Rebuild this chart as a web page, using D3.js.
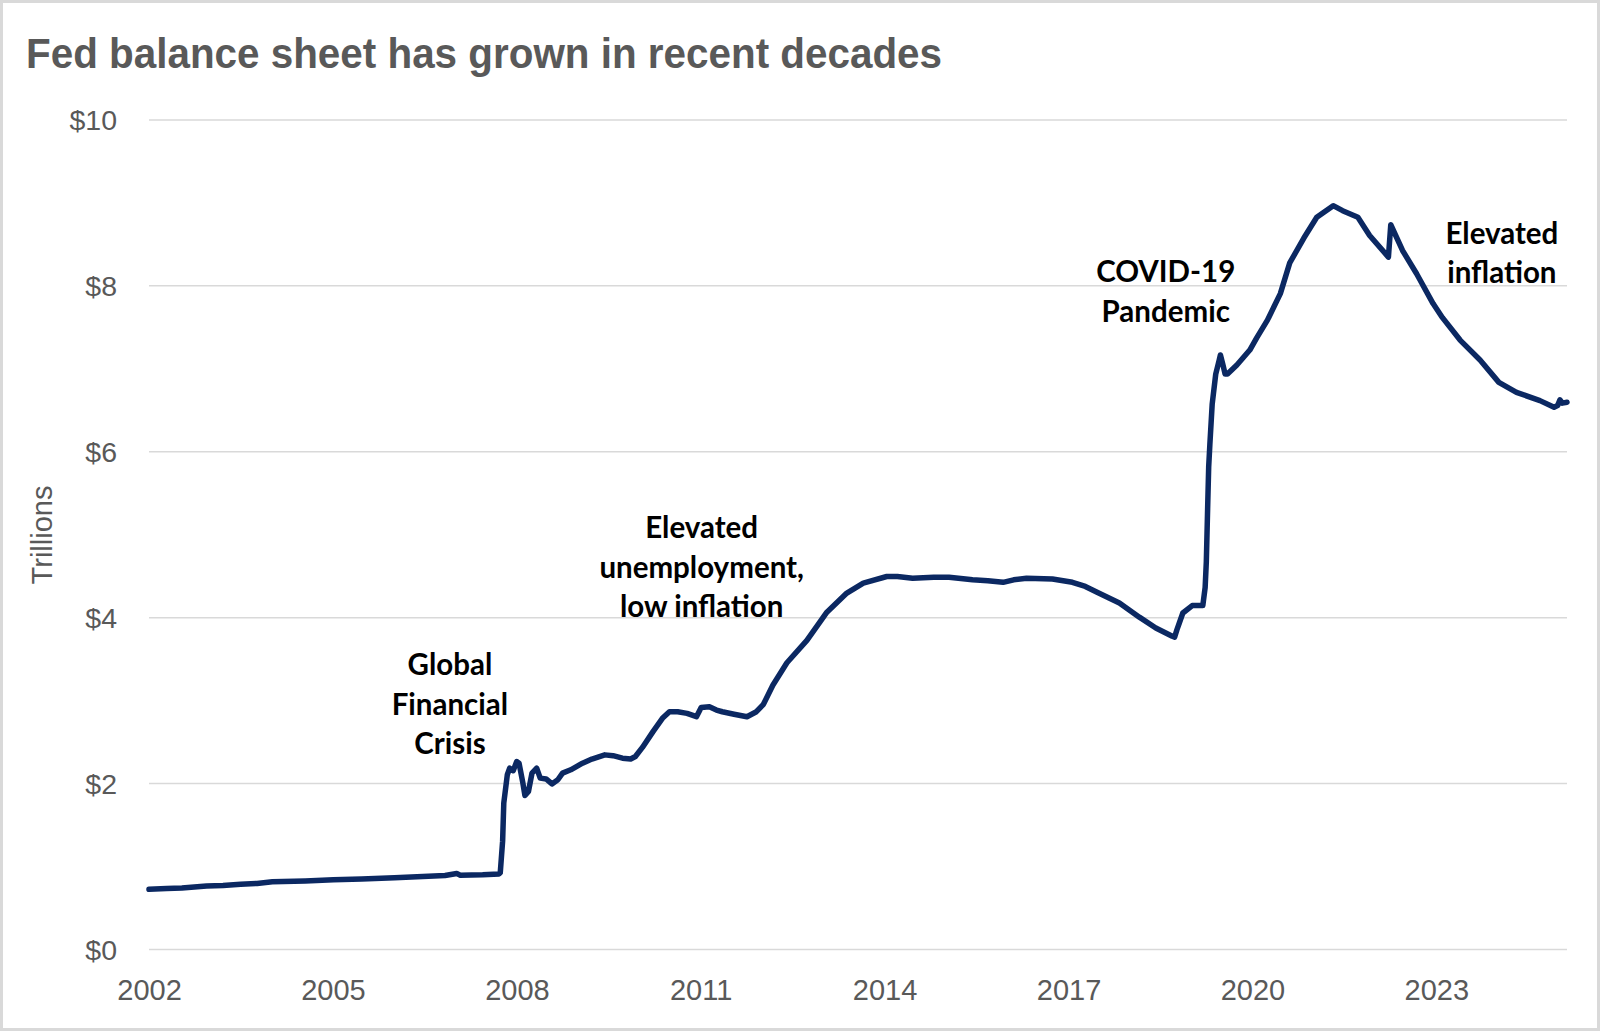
<!DOCTYPE html>
<html>
<head>
<meta charset="utf-8">
<script src="https://cdn.jsdelivr.net/npm/d3@7"></script>
<style>
  body { margin: 0; background: #fff; }
  svg { display: block; }
</style>
</head>
<body>
<svg id="chart" width="1600" height="1031"></svg>
<script>
// weekly Fed total assets (trillions of dollars)
const dates = [
  "2002-12-18", "2003-04-02", "2003-07-02", "2003-11-26", "2004-03-03", "2004-06-16", "2004-09-22", "2004-12-22",
  "2005-07-06", "2005-12-21", "2006-06-07", "2006-12-20", "2007-06-06", "2007-10-17", "2007-12-26", "2008-01-16",
  "2008-05-28", "2008-09-03", "2008-09-10", "2008-09-24", "2008-10-01", "2008-10-22", "2008-11-05", "2008-11-26",
  "2008-12-17", "2008-12-31", "2009-01-21", "2009-02-04", "2009-02-25", "2009-03-18", "2009-04-15", "2009-05-06",
  "2009-06-10", "2009-07-15", "2009-08-19", "2009-09-16", "2009-11-04", "2010-01-13", "2010-03-10", "2010-05-26",
  "2010-07-14", "2010-09-08", "2010-10-27", "2010-11-24", "2011-01-05", "2011-03-09", "2011-05-04", "2011-06-15",
  "2011-08-03", "2011-09-28", "2011-11-23", "2011-12-21", "2012-02-08", "2012-03-21", "2012-04-25", "2012-07-04",
  "2012-09-19", "2012-11-14", "2012-12-26", "2013-02-20", "2013-05-15", "2013-09-11", "2013-11-27", "2014-01-08",
  "2014-05-07", "2014-08-13", "2014-12-31", "2015-03-04", "2015-06-03", "2015-10-07", "2016-01-06", "2016-05-25",
  "2016-08-24", "2016-11-23", "2017-01-25", "2017-04-12", "2017-09-13", "2018-01-10", "2018-03-28", "2018-06-06",
  "2018-10-17", "2019-02-13", "2019-05-22", "2019-08-28", "2019-09-11", "2019-09-25", "2019-10-09", "2019-10-30",
  "2019-12-25", "2020-02-26", "2020-03-11", "2020-03-18", "2020-03-25", "2020-04-01", "2020-04-08", "2020-04-22",
  "2020-05-13", "2020-06-03", "2020-06-10", "2020-06-24", "2020-07-08", "2020-07-22", "2020-09-16", "2020-12-02",
  "2021-01-13", "2021-03-17", "2021-06-02", "2021-07-28", "2021-10-20", "2022-01-05", "2022-04-13", "2022-06-08",
  "2022-09-07", "2022-11-16", "2023-03-08", "2023-03-22", "2023-05-31", "2023-08-23", "2023-11-29", "2024-01-24",
  "2024-05-08", "2024-09-04", "2024-12-25", "2025-04-09", "2025-08-27", "2025-11-19", "2025-12-10", "2025-12-24",
  "2026-01-07", "2026-02-04"
]

const assets = [
  0.72, 0.73, 0.735, 0.76, 0.765, 0.78, 0.79, 0.81,
  0.82, 0.835, 0.845, 0.86, 0.875, 0.885, 0.91, 0.89,
  0.895, 0.905, 0.92, 1.30, 1.76, 2.10, 2.18, 2.15,
  2.26, 2.24, 2.02, 1.85, 1.90, 2.12, 2.18, 2.06,
  2.05, 1.99, 2.04, 2.12, 2.16, 2.24, 2.29, 2.34,
  2.33, 2.30, 2.29, 2.32, 2.43, 2.62, 2.78, 2.86,
  2.86, 2.84, 2.80, 2.91, 2.92, 2.88, 2.86, 2.83,
  2.80, 2.86, 2.95, 3.18, 3.45, 3.72, 3.94, 4.06,
  4.29, 4.41, 4.49, 4.49, 4.47, 4.48, 4.48, 4.45,
  4.44, 4.42, 4.45, 4.47, 4.46, 4.42, 4.37, 4.30,
  4.17, 4.00, 3.87, 3.77, 3.76, 3.85, 3.93, 4.05,
  4.14, 4.14, 4.36, 4.67, 5.25, 5.81, 6.08, 6.57,
  6.93, 7.10, 7.16, 7.05, 6.93, 6.93, 7.04, 7.22,
  7.37, 7.58, 7.90, 8.27, 8.57, 8.82, 8.96, 8.90,
  8.82, 8.60, 8.34, 8.73, 8.42, 8.14, 7.78, 7.61,
  7.34, 7.10, 6.83, 6.71, 6.61, 6.53, 6.55, 6.62,
  6.58, 6.59
]

// axis labels sit on the first weekly date of each labelled year
const tickYears = [2002, 2005, 2008, 2011, 2014, 2017, 2020, 2023]
const yTicks = [0, 2, 4, 6, 8, 10]

const notes = [
  ["Global", "Financial", "Crisis"],
  ["Elevated", "unemployment,", "low inflation"],
  ["COVID-19", "Pandemic"],
  ["Elevated", "inflation"]
]
const noteAnchors = [
  ["2007-11-15", 3.30],
  ["2011-12-24", 4.95],
  ["2019-07-20", 8.04],
  ["2025-01-12", 8.50]
]

const parse = d3.timeParse("%Y-%m-%d")
const series = dates.map((d, i) => ({ date: parse(d), value: assets[i] }))

const gray = "#595959"
const sans = "'Liberation Sans', Arial, sans-serif"

const svg = d3.select("#chart")

// light frame round the whole picture
svg.append("rect")
  .attr("x", 1.5).attr("y", 1.5)
  .attr("width", 1597).attr("height", 1028)
  .attr("fill", "#fff")
  .attr("stroke", "#d9d9d9")
  .attr("stroke-width", 3)

let x = d3.scaleTime()
  .domain([series[0].date, series[series.length - 1].date])
  .range([149, 1567])

let y = d3.scaleLinear()
  .domain([0, 10])
  .range([949, 119.4])

// gridlines
svg.append("g")
  .attr("transform", "translate(149,0)")
  .call(d3.axisLeft(y).tickValues(yTicks).tickSize(-(1567 - 149)).tickFormat(""))
  .call(g => g.select(".domain").remove())
  .call(g => g.selectAll("line").attr("stroke", "#d9d9d9").attr("stroke-width", 1.5))

// y labels
svg.append("g")
  .attr("transform", "translate(149,0)")
  .call(d3.axisLeft(y).tickValues(yTicks).tickSize(0).tickPadding(32).tickFormat(d => "$" + d))
  .call(g => g.select(".domain").remove())
  .call(g => g.selectAll("text")
    .attr("fill", gray)
    .attr("dy", "0.36em")
    .style("font-family", sans)
    .style("font-size", "28.5px"))

// x labels
svg.append("g")
  .attr("transform", "translate(0,949)")
  .call(d3.axisBottom(x)
    .tickValues(tickYears.map(yr => parse(yr + "-12-18")))
    .tickSize(0)
    .tickFormat(d3.timeFormat("%Y")))
  .call(g => g.select(".domain").remove())
  .call(g => g.selectAll("text")
    .attr("fill", gray)
    .attr("y", 51)
    .attr("dy", 0)
    .style("font-family", sans)
    .style("font-size", "29px"))

// y axis title
svg.append("text")
  .attr("transform", "translate(51.5,535) rotate(-90)")
  .attr("text-anchor", "middle")
  .attr("fill", gray)
  .style("font-family", sans)
  .style("font-size", "29px")
  .text("Trillions")

// the balance sheet line
const line = d3.line()
  .x(d => x(d.date))
  .y(d => y(d.value))

svg.append("path")
  .datum(series)
  .attr("d", line)
  .attr("fill", "none")
  .attr("stroke", "#0b2862")
  .attr("stroke-width", 5.5)
  .attr("stroke-linejoin", "round")
  .attr("stroke-linecap", "round")

// event labels
notes.forEach((lines, i) => {
  const cx = x(parse(noteAnchors[i][0]))
  const cy = y(noteAnchors[i][1])
  const t = svg.append("text")
    .attr("text-anchor", "middle")
    .attr("fill", "#000")
    .style("font-family", "Lato, 'Open Sans', sans-serif")
    .style("font-weight", 700)
    .style("font-size", "29.5px")
  lines.forEach((s, j) => {
    t.append("tspan").attr("x", cx).attr("y", cy + j * 39.5).text(s)
  })
})

// title
svg.append("text")
  .attr("x", 26)
  .attr("y", 68)
  .attr("fill", gray)
  .attr("textLength", 916)
  .attr("lengthAdjust", "spacingAndGlyphs")
  .style("font-family", sans)
  .style("font-weight", 700)
  .style("font-size", "42px")
  .text("Fed balance sheet has grown in recent decades")
</script>
</body>
</html>
